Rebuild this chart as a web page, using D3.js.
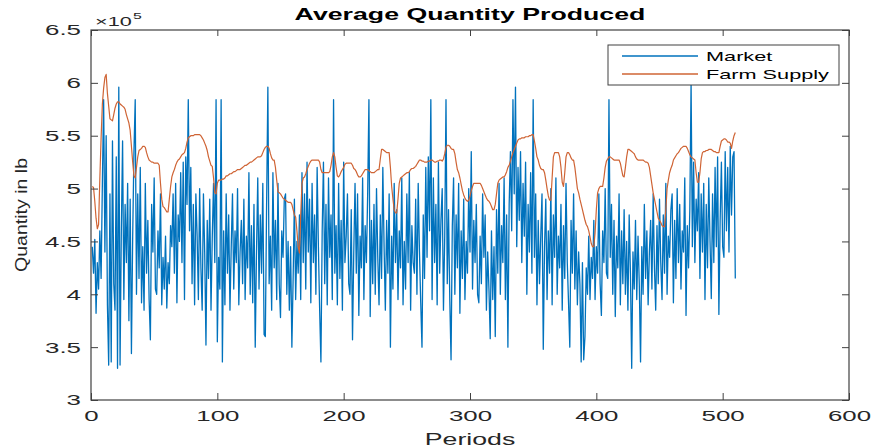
<!DOCTYPE html>
<html><head><meta charset="utf-8">
<script src="https://cdn.jsdelivr.net/npm/d3@7"></script>
<style>
html,body{margin:0;padding:0;background:#fff;}
svg{display:block;font-family:"Liberation Sans",Arial,Helvetica,sans-serif;}
</style></head><body>
<svg id="chart" width="891" height="448"></svg>
<script>
// Average quantity produced per period, in units of 1e5 lb
const market = [
4.45,4.20,4.52,3.82,4.30,4.05,4.60,4.15,5.05,5.84,
4.40,5.50,3.90,3.33,4.95,3.36,5.45,4.10,3.85,5.30,
3.30,5.96,3.33,4.60,5.45,3.95,4.85,4.30,5.05,3.75,
4.90,3.44,4.55,5.35,5.84,4.00,4.95,4.15,5.20,3.92,
4.45,3.85,5.05,4.20,4.70,3.95,3.57,4.85,4.40,5.10,4.05,
4.00,4.60,4.25,4.95,3.90,4.35,4.05,4.55,3.87,4.30,
4.10,4.65,4.45,4.95,4.20,5.05,3.92,4.75,4.50,5.15,
4.30,5.25,3.95,5.30,4.85,5.84,4.60,5.20,4.10,4.85,
3.90,4.95,4.55,3.95,5.00,4.25,3.85,4.95,4.40,3.52,
4.70,4.15,4.90,3.85,4.55,5.05,4.30,5.84,3.55,4.35,4.05,
5.84,3.36,4.60,3.90,4.95,4.20,4.75,3.85,4.45,4.95,
4.05,4.60,4.30,5.00,3.90,4.40,4.70,4.10,4.90,3.95,
4.55,4.25,5.15,4.00,4.65,3.92,4.85,3.50,4.40,5.10,
4.05,4.75,4.20,5.05,3.62,3.60,4.85,5.96,4.10,4.55,
3.85,5.15,4.25,4.70,3.95,5.05,4.10,3.78,4.60,4.35,4.90,
4.95,4.00,4.50,3.85,4.45,3.50,4.15,4.90,3.95,4.50,
4.20,4.75,3.95,5.15,4.30,4.95,4.05,5.25,4.40,4.90,
3.92,5.05,4.30,4.75,4.00,5.20,4.45,3.85,3.36,4.60,
5.25,4.10,4.85,3.90,5.10,4.35,4.75,3.95,5.84,4.20,
4.65,3.90,5.05,4.15,4.70,3.85,5.25,4.30,4.55,4.95,4.10,
4.00,4.80,3.57,4.40,5.05,4.20,4.95,3.80,4.55,4.25,
5.10,3.95,4.65,4.30,4.95,5.84,3.79,4.70,4.10,4.85,
4.00,5.00,4.35,3.90,4.75,4.15,5.20,4.45,3.85,4.70,
4.20,4.95,3.50,4.55,4.05,5.05,4.30,4.80,3.95,4.60,
4.25,5.10,3.90,4.50,4.05,4.95,4.30,5.15,3.85,4.65,4.30,
4.20,4.90,4.00,5.05,4.40,3.92,3.50,4.75,4.15,5.20,
4.35,5.30,4.60,5.84,3.95,5.10,4.30,4.85,3.90,5.25,
4.20,4.70,5.00,3.85,4.55,5.84,4.10,4.80,3.95,3.38,
4.65,5.10,4.00,4.75,4.25,5.05,3.82,4.60,4.15,4.90,
3.95,4.50,4.20,5.00,4.40,5.35,4.05,4.70,4.30,4.85,4.00,
3.92,4.55,4.10,4.95,4.35,4.75,3.85,4.40,4.05,3.58,
4.60,3.95,4.45,3.60,4.80,4.20,5.05,4.00,4.65,4.30,
5.10,3.95,4.75,3.50,4.85,5.35,4.60,5.84,4.95,5.96,
4.45,5.20,4.70,5.35,4.30,5.05,4.55,5.25,4.00,4.85,
4.40,5.15,4.20,5.84,4.35,4.95,3.90,4.70,4.10,4.55,4.95,
3.48,4.45,4.90,3.95,4.60,4.20,5.00,3.90,4.75,4.35,
5.10,4.00,4.55,4.25,4.85,3.85,4.65,4.15,5.05,4.30,
3.92,3.50,4.70,4.20,4.95,4.05,4.60,3.90,4.40,4.10,
3.36,4.30,3.38,3.60,4.25,4.00,4.55,3.95,4.35,4.15,
4.70,3.95,4.45,4.20,4.95,4.10,3.80,4.60,4.30,5.00,4.20,
4.15,5.84,4.35,4.85,4.00,4.70,3.79,4.55,4.25,4.95,
3.90,4.60,4.10,4.80,4.00,4.50,3.85,4.75,4.20,3.30,
4.40,4.05,4.70,3.95,4.55,4.10,3.36,4.45,4.00,4.85,
4.15,4.60,3.90,4.40,4.70,4.05,4.95,4.25,3.85,4.65,
4.10,4.90,4.30,3.95,4.75,4.20,5.05,4.00,4.55,4.35,4.80,
4.95,3.92,4.70,4.15,5.00,4.30,4.85,4.05,4.60,4.40,
5.10,3.80,4.65,4.25,4.80,6.00,4.45,5.25,4.30,4.90,
4.60,5.15,4.15,4.95,4.40,5.05,3.95,4.85,4.25,5.10,
4.50,3.96,4.95,4.30,5.20,4.45,5.30,3.81,4.70,5.25,4.45,
4.35,5.35,4.60,5.20,4.40,5.40,4.75,5.30,5.35,4.15
];
const farmSupply = [
5.02,5.01,4.88,4.72,4.62,4.66,5.10,5.48,5.80,5.95,
6.05,6.08,5.90,5.78,5.66,5.65,5.64,5.70,5.76,5.80,
5.82,5.82,5.80,5.79,5.78,5.77,5.75,5.70,5.66,5.62,
5.55,5.40,5.25,5.12,5.10,5.20,5.30,5.36,5.37,5.38,
5.40,5.40,5.39,5.34,5.30,5.27,5.26,5.25,5.25,5.24,5.24,
5.24,5.24,5.22,5.05,4.90,4.83,4.82,4.80,4.78,4.78,
4.90,5.02,5.11,5.15,5.18,5.22,5.25,5.27,5.28,5.30,
5.32,5.33,5.34,5.38,5.44,5.48,5.49,5.50,5.50,5.50,
5.51,5.51,5.51,5.51,5.51,5.50,5.48,5.46,5.43,5.40,
5.36,5.30,5.26,5.22,5.21,5.10,4.96,4.95,5.05,5.08,5.08,
5.08,5.09,5.09,5.10,5.12,5.12,5.13,5.14,5.14,5.15,
5.16,5.16,5.17,5.18,5.18,5.18,5.19,5.20,5.21,5.22,
5.22,5.23,5.24,5.25,5.25,5.26,5.27,5.28,5.29,5.30,
5.30,5.30,5.31,5.34,5.37,5.39,5.40,5.40,5.38,5.33,
5.29,5.27,5.27,5.20,5.08,4.97,4.96,4.95,4.93,4.91,4.90,
4.89,4.88,4.87,4.87,4.87,4.85,4.80,4.75,4.73,4.60,
4.45,4.39,4.75,5.05,5.10,5.11,5.14,5.18,5.21,5.24,
5.26,5.27,5.27,5.27,5.27,5.27,5.27,5.25,5.18,5.15,
5.15,5.15,5.15,5.15,5.15,5.16,5.22,5.30,5.34,5.30,
5.20,5.12,5.11,5.13,5.16,5.18,5.20,5.23,5.24,5.24,5.24,
5.24,5.24,5.22,5.19,5.18,5.16,5.13,5.11,5.11,5.12,
5.14,5.16,5.18,5.18,5.18,5.17,5.16,5.15,5.15,5.15,
5.16,5.17,5.18,5.18,5.28,5.37,5.37,5.36,5.35,5.34,
5.34,5.34,5.20,5.02,4.90,4.80,4.77,4.77,4.90,5.05,
5.10,5.11,5.12,5.13,5.14,5.15,5.15,5.16,5.18,5.19,5.19,
5.20,5.21,5.23,5.25,5.27,5.27,5.26,5.26,5.25,5.25,
5.25,5.26,5.26,5.27,5.27,5.26,5.25,5.25,5.26,5.26,
5.27,5.27,5.26,5.28,5.33,5.39,5.41,5.41,5.40,5.38,
5.37,5.37,5.33,5.25,5.18,5.15,5.10,5.04,4.98,4.94,
4.91,4.89,4.88,4.89,4.93,4.98,5.02,5.05,5.05,5.05,5.05,
5.05,5.05,5.03,5.00,4.97,4.94,4.91,4.89,4.88,4.86,
4.83,4.80,4.80,4.85,4.95,5.05,5.08,5.09,5.10,5.11,
5.11,5.13,5.16,5.20,5.22,5.26,5.30,5.34,5.37,5.40,
5.43,5.46,5.47,5.47,5.48,5.48,5.48,5.49,5.49,5.49,
5.50,5.50,5.51,5.51,5.45,5.38,5.30,5.27,5.22,5.19,5.18,
5.18,5.15,5.08,5.00,4.93,4.89,4.89,5.10,5.30,5.34,
5.34,5.34,5.34,5.30,5.20,5.06,5.02,5.15,5.30,5.34,
5.34,5.32,5.29,5.27,5.27,5.20,5.10,5.00,4.96,4.90,
4.85,4.80,4.75,4.70,4.66,4.64,4.60,4.54,4.48,4.45,
4.45,4.58,4.80,4.96,5.00,5.02,5.02,5.02,5.10,5.20,5.26,
5.28,5.30,5.30,5.29,5.28,5.27,5.27,5.27,5.27,5.27,
5.24,5.18,5.12,5.11,5.20,5.30,5.37,5.37,5.36,5.35,
5.34,5.33,5.30,5.28,5.27,5.27,5.27,5.27,5.27,5.26,
5.25,5.25,5.24,5.20,5.12,5.04,4.96,4.90,4.84,4.78,
4.72,4.70,4.68,4.65,4.64,4.64,4.80,5.00,5.08,5.15,5.19,
5.22,5.27,5.29,5.31,5.33,5.34,5.36,5.38,5.39,5.40,
5.40,5.40,5.38,5.35,5.32,5.30,5.29,5.28,5.27,5.15,
5.06,5.06,5.15,5.28,5.34,5.35,5.35,5.36,5.36,5.37,
5.37,5.37,5.36,5.35,5.35,5.34,5.34,5.34,5.40,5.45,5.46,
5.47,5.47,5.46,5.44,5.44,5.43,5.38,5.45,5.50,5.53
];
const xTicks = [0, 100, 200, 300, 400, 500, 600];
const yTicks = [3, 3.5, 4, 4.5, 5, 5.5, 6, 6.5];
const yTickLabels = ["3", "3.5", "4", "4.5", "5", "5.5", "6", "6.5"];
const seriesNames = ["Market", "Farm Supply"];
const seriesColors = ["#0072BD", "#CF6435"];
const titleText = "Average Quantity Produced";
const xLabelText = "Periods";
const yLabelText = "Quantity in lb";
const exponentBase = "\u00d710";
const exponentPower = "5";

const box = {left: 91, right: 849, top: 30, bottom: 400};
const SX = 1.67;          // horizontal stretch applied to all lettering
const axisColor = "#404040";
const textColor = "#262626";

const x = d3.scaleLinear().domain([0, 600]).range([box.left, box.right]);
const y = d3.scaleLinear().domain([3, 6.5]).range([box.bottom, box.top]);
const svg = d3.select("#chart");

svg.append("rect").attr("width", 891).attr("height", 448).attr("fill", "#fff");

svg.append("defs").append("clipPath").attr("id", "plot-clip")
  .append("rect")
  .attr("x", box.left).attr("y", box.top)
  .attr("width", box.right - box.left).attr("height", box.bottom - box.top);

// data lines: market first, farm supply drawn over it
const line = d3.line().x((d, i) => x(i + 1)).y(d => y(d));
const plot = svg.append("g").attr("clip-path", "url(#plot-clip)");
[market, farmSupply].forEach((series, k) => {
  plot.append("path")
    .datum(series)
    .attr("d", line)
    .attr("fill", "none")
    .attr("stroke", seriesColors[k])
    .attr("stroke-width", k === 0 ? 1.3 : 1.2)
    .attr("stroke-linejoin", "round");
});

// axes with inward ticks on all four sides
const styleAxis = g => {
  g.select(".domain").remove();
  g.selectAll(".tick line").attr("stroke", axisColor).attr("stroke-width", 1);
  g.selectAll(".tick text").attr("fill", textColor)
    .attr("font-size", "15.5px").attr("font-family", null);
};

svg.append("g")
  .attr("transform", `translate(0,${box.bottom})`)
  .call(d3.axisBottom(x).tickValues(xTicks).tickSizeInner(-7).tickSizeOuter(0).tickPadding(10))
  .call(styleAxis)
  .call(g => g.selectAll(".tick text").attr("transform", `scale(${SX},1)`));

svg.append("g")
  .attr("transform", `translate(0,${box.top})`)
  .call(d3.axisTop(x).tickValues(xTicks).tickSizeInner(-6).tickSizeOuter(0).tickFormat(""))
  .call(styleAxis);

svg.append("g")
  .attr("transform", `translate(${box.left},0)`)
  .call(d3.axisLeft(y).tickValues(yTicks).tickFormat((d, i) => yTickLabels[i])
    .tickSizeInner(-7).tickSizeOuter(0).tickPadding(10))
  .call(styleAxis)
  .call(g => g.selectAll(".tick text")
    .attr("x", -10 / SX)
    .attr("transform", `scale(${SX},1)`));

svg.append("g")
  .attr("transform", `translate(${box.right},0)`)
  .call(d3.axisRight(y).tickValues(yTicks).tickSizeInner(-7).tickSizeOuter(0).tickFormat(""))
  .call(styleAxis);

// axes box
svg.append("rect")
  .attr("x", box.left).attr("y", box.top)
  .attr("width", box.right - box.left).attr("height", box.bottom - box.top)
  .attr("fill", "none").attr("stroke", axisColor).attr("stroke-width", 1.2);

// stretched text helper
function stretchedText(px, py, str, opts = {}) {
  const g = svg.append("g").attr("transform", `translate(${px},${py}) scale(${opts.sx || SX},1)${opts.rotate ? ` rotate(${opts.rotate})` : ""}`);
  return g.append("text")
    .attr("text-anchor", opts.anchor || "start")
    .attr("font-size", (opts.size || 15) + "px")
    .attr("font-weight", opts.weight || "normal")
    .attr("fill", opts.color || textColor)
    .text(str);
}

// exponent marker
stretchedText(95, 26, exponentBase, {size: 13});
stretchedText(133, 19, exponentPower, {size: 9.5});

// title and axis labels
stretchedText((box.left + box.right) / 2, 20, titleText, {size: 16, weight: "bold", anchor: "middle", color: "#000"});
stretchedText((box.left + box.right) / 2, 445, xLabelText, {size: 16, anchor: "middle"});
stretchedText(27, (box.top + box.bottom) / 2, yLabelText, {size: 15, anchor: "middle", rotate: -90, sx: 1.1})
  .attr("textLength", 114).attr("lengthAdjust", "spacingAndGlyphs");

// legend
const legend = {x0: 608, y0: 45, x1: 839, y1: 85};
svg.append("rect")
  .attr("x", legend.x0).attr("y", legend.y0)
  .attr("width", legend.x1 - legend.x0).attr("height", legend.y1 - legend.y0)
  .attr("fill", "#fff").attr("stroke", axisColor).attr("stroke-width", 1);
const legendRows = [56, 74];
seriesNames.forEach((name, k) => {
  svg.append("line")
    .attr("x1", 622).attr("x2", 698)
    .attr("y1", legendRows[k]).attr("y2", legendRows[k])
    .attr("stroke", seriesColors[k]).attr("stroke-width", 1.3);
  stretchedText(706, legendRows[k] + 4.5, name, {size: 13, color: "#000"});
});
</script>
</body></html>
